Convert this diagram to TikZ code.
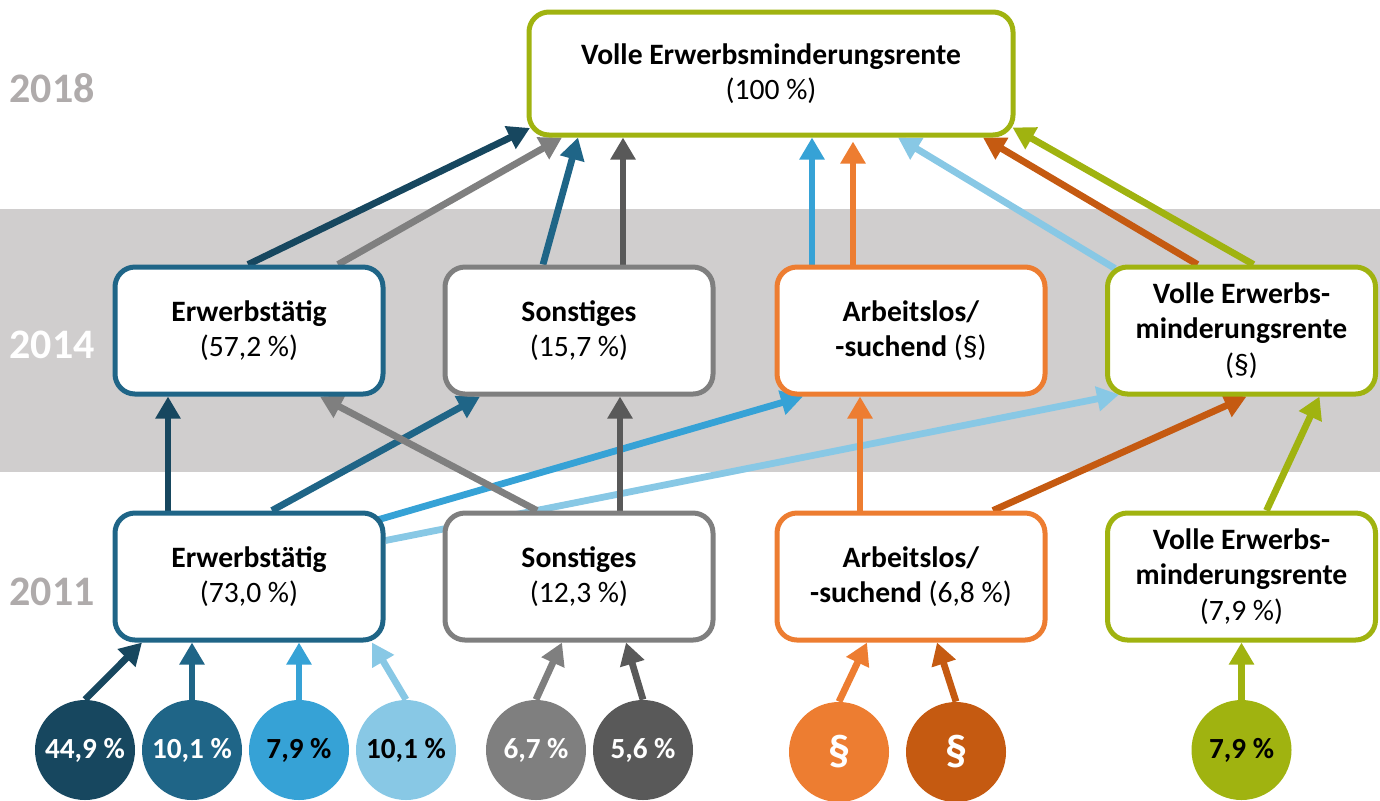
\documentclass[tikz,border=0pt]{standalone}
\usepackage{fontspec}
\setmainfont{Carlito}
\usetikzlibrary{arrows.meta,calc,backgrounds}

\definecolor{cNavy}{HTML}{17475F}
\definecolor{cTeal}{HTML}{1F6587}
\definecolor{cBlue}{HTML}{36A2D6}
\definecolor{cLight}{HTML}{88C8E5}
\definecolor{cGray}{HTML}{7F7F7F}
\definecolor{cDark}{HTML}{595959}
\definecolor{cOrange}{HTML}{ED7D31}
\definecolor{cRust}{HTML}{C55A11}
\definecolor{cGreen}{HTML}{A0B310}
\definecolor{cBand}{HTML}{D0CECE}
\definecolor{cYear}{HTML}{AFABAB}

\begin{document}
\begin{tikzpicture}[
		x=0.5pt,y=-0.5pt,
		box/.style={draw=#1,line width=2.5pt,rounded corners=10pt,fill=white,align=center,
			minimum width=134pt,minimum height=63.5pt,inner sep=0pt,font=\fontsize{14.8}{17.8}\selectfont},
		dot/.style={circle,fill=#1,text=white,minimum size=50pt,inner sep=0pt,
			font=\bfseries\fontsize{14.6}{17}\selectfont},
		arr/.style={draw=#1,line width=3.4pt,-{Triangle[length=11pt,width=12pt]}},
		year/.style={text=#1,font=\bfseries\fontsize{21}{21}\selectfont},
	]
	\useasboundingbox (0,0) rectangle (1380,800);

	% years
	\node[year=cYear] (y18) at (52,88) {2018};
	\node[year=white] (y14) at (52,345) {2014};
	\node[year=cYear] (y11) at (52,592) {2011};

	% 2018
	\node[box=cGreen,minimum width=242pt,minimum height=61.5pt] (top) at (771,73.5)
		{\textbf{Volle Erwerbsminderungsrente}\\(100~\%)};

	% 2014
	\node[box=cTeal] (e14) at (249,330.5) {\textbf{Erwerbstätig}\\(57,2~\%)};
	\node[box=cGray] (s14) at (579,330.5) {\textbf{Sonstiges}\\(15,7~\%)};
	\node[box=cOrange] (a14) at (911,330.5) {\textbf{Arbeitslos/}\\\textbf{-suchend} (§)};
	\node[box=cGreen] (v14) at (1241.5,330.5) {\textbf{Volle Erwerbs-}\\\textbf{minderungsrente}\\(§)};

	% 2011
	\node[box=cTeal] (e11) at (249,576.5) {\textbf{Erwerbstätig}\\(73,0~\%)};
	\node[box=cGray] (s11) at (579,576.5) {\textbf{Sonstiges}\\(12,3~\%)};
	\node[box=cOrange] (a11) at (911,576.5) {\textbf{Arbeitslos/}\\\textbf{-suchend} (6,8~\%)};
	\node[box=cGreen] (v11) at (1241.5,576.5) {\textbf{Volle Erwerbs-}\\\textbf{minderungsrente}\\(7,9~\%)};

	% shares
	\node[dot=cNavy] (c1) at (85,750) {44,9~\%};
	\node[dot=cTeal] (c2) at (192,750) {10,1~\%};
	\node[dot=cBlue,text=black] (c3) at (299,750) {7,9~\%};
	\node[dot=cLight,text=black] (c4) at (406,750) {10,1~\%};
	\node[dot=cGray] (c5) at (536,750) {6,7~\%};
	\node[dot=cDark] (c6) at (643,750) {5,6~\%};
	\node[dot=cOrange,font=\bfseries\fontsize{22}{22}\selectfont] (c7) at (839,752) {§};
	\node[dot=cRust,font=\bfseries\fontsize{22}{22}\selectfont] (c8) at (956,752) {§};
	\node[dot=cGreen,text=black] (c9) at (1241.5,750) {7,9~\%};

	\begin{scope}[on background layer]
		\fill[cBand] (0,209) rectangle (1380,472);

		\draw[arr=cNavy] (c1.north) -- ($(e11.south)+(-107,0)$);
		\draw[arr=cTeal] (c2.north) -- ($(e11.south)+(-57,0)$);
		\draw[arr=cBlue] (c3.north) -- ($(e11.south)+(50,0)$);
		\draw[arr=cLight] (c4.north) -- ($(e11.south)+(123,0)$);
		\draw[arr=cGray] (c5.north) -- ($(s11.south)+(-17,0)$);
		\draw[arr=cDark] (c6.north) -- ($(s11.south)+(47,0)$);
		\draw[arr=cOrange] (c7.north) -- ($(a11.south)+(-44,0)$);
		\draw[arr=cRust] (c8.north) -- ($(a11.south)+(26,0)$);
		\draw[arr=cGreen] (c9) -- (v11);

		% 2011 -> 2014
		\draw[arr=cNavy] ($(e11.north)+(-81,0)$) -- ($(e14.south)+(-81,0)$);
		\draw[arr=cTeal] ($(e11.north)+(23,0)$) -- ($(s14.south)+(-99,0)$);
		\draw[arr=cBlue] ($(e11.north east)+(-10,10)$) -- ($(a14.south)+(-108,0)$);
		\draw[arr=cLight] ($(e11.east)+(0,-36)$) -- ($(v14.south west)+(14,-2)$);
		\draw[arr=cGray] ($(s11.north)+(-42,0)$) -- ($(e14.south)+(71,0)$);
		\draw[arr=cDark] ($(s11.north)+(41,0)$) -- ($(s14.south)+(41,0)$);
		\draw[arr=cOrange] ($(a11.north)+(-51,0)$) -- ($(a14.south)+(-51,0)$);
		\draw[arr=cRust] ($(a11.north)+(82,0)$) -- ($(v14.south)+(5,0)$);
		\draw[arr=cGreen] ($(v11.north)+(25,0)$) -- ($(v14.south)+(78,0)$);

		% 2014 -> 2018
		\draw[arr=cNavy] ($(e14.north)+(-1,0)$) -- ($(top.south west)+(3.5,-9.5)$);
		\draw[arr=cGray] ($(e14.north)+(89,0)$) -- ($(top.south)+(-209,0)$);
		\draw[arr=cTeal] ($(s14.north)+(-36,0)$) -- ($(top.south)+(-193,0)$);
		\draw[arr=cDark] ($(s14.north)+(44,0)$) -- ($(top.south)+(-148,0)$);
		\draw[arr=cBlue] ($(a14.north)+(-99,0)$) -- ($(top.south)+(41,0)$);
		\draw[arr=cOrange] ($(a14.north)+(-58,0)$) -- ($(top.south)+(82,4)$);
		\draw[arr=cLight] ($(v14.north west)+(10,4)$) -- ($(top.south)+(127,0)$);
		\draw[arr=cRust] ($(v14.north)+(-44,0)$) -- ($(top.south)+(212,0)$);
		\draw[arr=cGreen] ($(v14.north)+(12,0)$) -- ($(top.south east)+(-3,-10)$);
	\end{scope}

\end{tikzpicture}
\end{document}
